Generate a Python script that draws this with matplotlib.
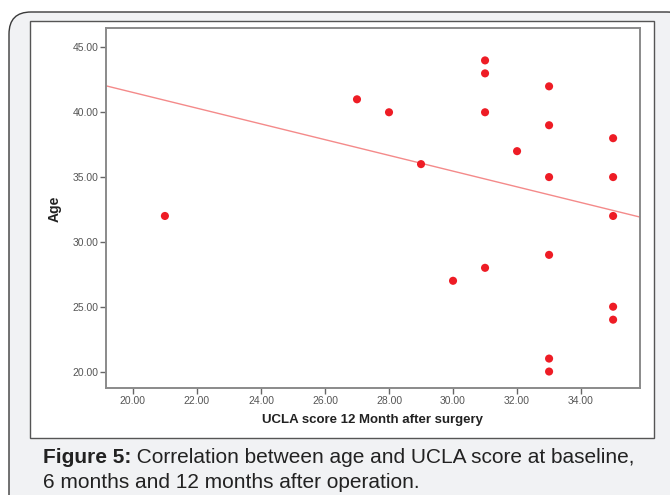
import matplotlib
matplotlib.use("Agg")
import matplotlib.pyplot as plt
from matplotlib.patches import FancyBboxPatch, Rectangle
from matplotlib.transforms import IdentityTransform
import numpy as np

# ---- data ----
ucla_score = [21, 27, 28, 29, 30,
              31, 31, 31, 31,
              32,
              33, 33, 33, 33, 33, 33,
              35, 35, 35, 35, 35]
age = [32, 41, 40, 36, 27,
       44, 43, 40, 28,
       37,
       42, 39, 35, 29, 21, 20,
       38, 35, 32, 25, 24]
fit_intercept = 53.67
fit_slope = -0.607
x_ticks = [20, 22, 24, 26, 28, 30, 32, 34]
y_ticks = [20, 25, 30, 35, 40, 45]
x_label = "UCLA score 12 Month after surgery"
y_label = "Age"
caption_bold = "Figure 5:"
caption_rest_1 = " Correlation between age and UCLA score at baseline,"
caption_line_2 = "6 months and 12 months after operation."

W, H = 670, 495
fig = plt.figure(figsize=(W / 100, H / 100), dpi=100)
fig.patch.set_facecolor("white")

# outer rounded card
card = FancyBboxPatch((9, -40), 680, 483 + 40,
                      boxstyle="round,pad=0,rounding_size=22",
                      transform=IdentityTransform(), facecolor="#f1f2f4",
                      edgecolor="#3a3a3a", linewidth=1.0, zorder=0)
fig.patches.append(card)
# inner white panel
panel = Rectangle((30, H - 438), 624, 417, transform=IdentityTransform(),
                  facecolor="white", edgecolor="#555555", linewidth=1.0, zorder=1)
fig.patches.append(panel)

ax = fig.add_axes([106 / W, 1 - 388 / H, (640 - 106) / W, (388 - 28) / H])
ax.set_zorder(2)
ax.scatter(ucla_score, age, s=34, color="#ee1c25", edgecolors="none", zorder=3)
xl = (19.16, 35.84)
ax.plot(xl, [fit_intercept + fit_slope * v for v in xl], color="#f48a8a", lw=1.0, zorder=2)
ax.set_xlim(*xl)
ax.set_ylim(18.73, 46.5)
ax.set_xticks(x_ticks)
ax.set_yticks(y_ticks)
ax.set_xticklabels([f"{v:.2f}" for v in x_ticks])
ax.set_yticklabels([f"{v:.2f}" for v in y_ticks])
for s in ax.spines.values():
    s.set_color("#8a8a8a")
    s.set_linewidth(1.4)
ax.tick_params(axis="both", direction="out", length=4, width=1.0, color="#666666",
               labelsize=7.5, labelcolor="#555555", pad=1.5)
for lab in ax.get_xticklabels() + ax.get_yticklabels():
    lab.set_family("Liberation Sans")
ax.set_xlabel(x_label, fontsize=9.5, fontweight="bold", family="Liberation Sans",
              color="#222222", labelpad=6)
ax.set_ylabel(y_label, fontsize=10, fontweight="bold", family="Liberation Sans",
              color="#222222")
ax.yaxis.set_label_coords((55 - 106) / (640 - 106), (388 - 209) / (388 - 28))
ax.yaxis.label.set_va("center")

cap_font = ["Liberation Sans", "DejaVu Sans"]
t1 = fig.text(43 / W, 32 / H, caption_bold, fontsize=15, fontweight="bold",
              family=cap_font, color="#222222", va="baseline")
fig.canvas.draw()
bb = t1.get_window_extent()
fig.text(bb.x1 / W, 32 / H, caption_rest_1, fontsize=15, family=cap_font,
         color="#222222", va="baseline")
fig.text(43 / W, 7 / H, caption_line_2, fontsize=15, family=cap_font,
         color="#222222", va="baseline")

fig.savefig("out.png", dpi=100)
